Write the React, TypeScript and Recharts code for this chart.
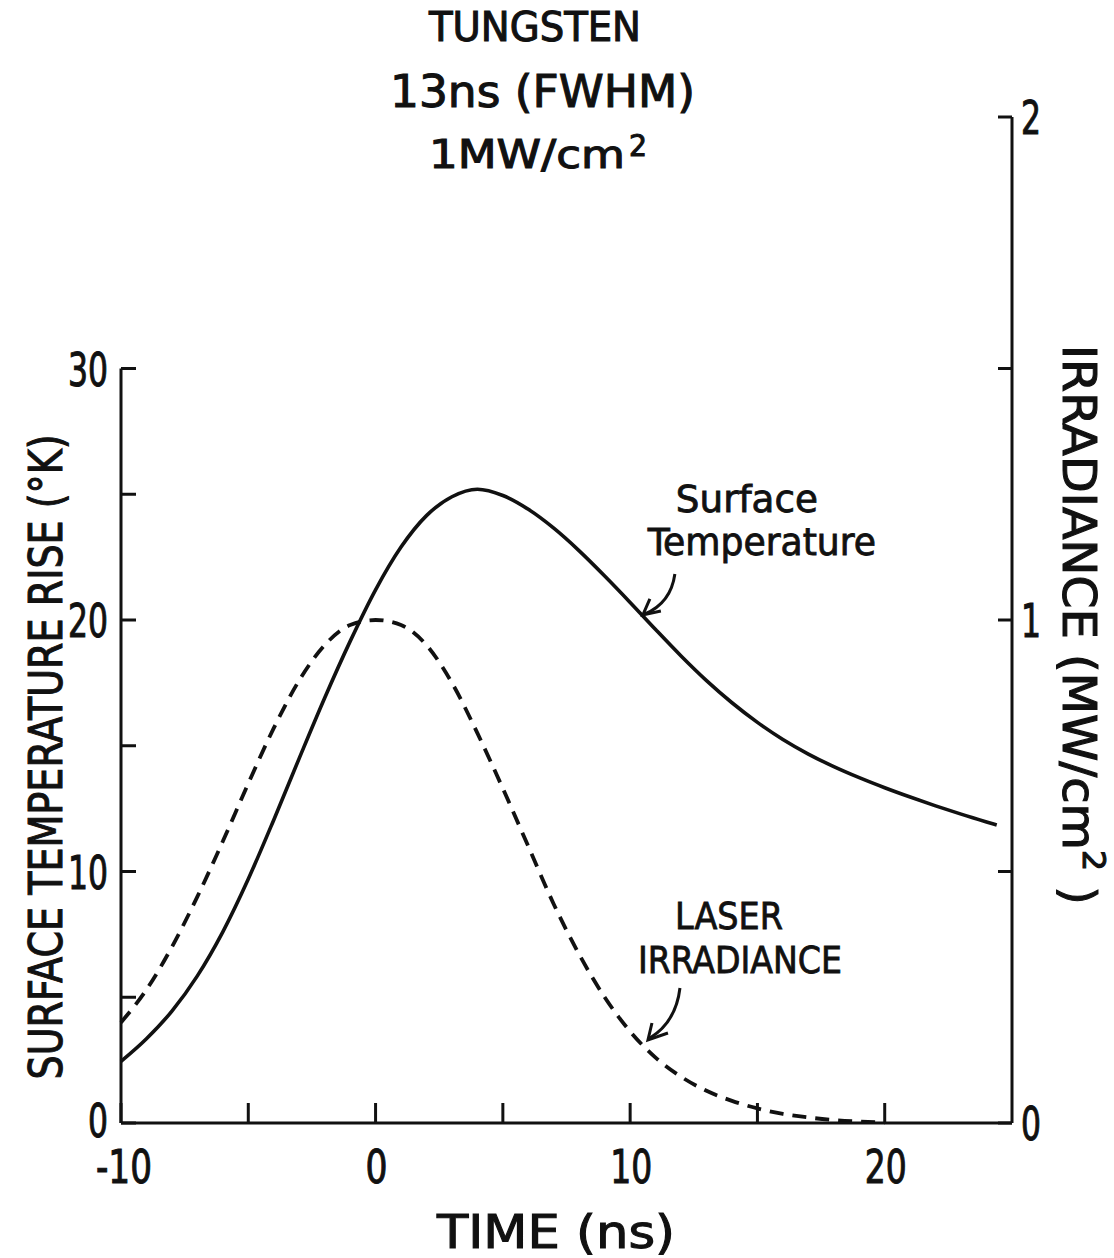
import { LineChart, Line, XAxis, YAxis, ReferenceLine, ReferenceDot } from "recharts"

// time in ns, temperature rise in K, irradiance in MW/cm^2
const time = [-10, -9, -8, -7, -6, -5, -4, -3, -2, -1, 0, 1, 2, 3, 4, 5, 6, 7, 8, 9, 10, 11, 12, 13, 14, 15, 16, 17, 18, 19, 20, 21, 22, 23, 24, 24.4]
const surfaceTemperature = [2.45, 3.35, 4.45, 5.85, 7.6, 9.7, 12.05, 14.5, 16.9, 19.15, 21.2, 22.9, 24.15, 24.9, 25.2, 24.95, 24.4, 23.65, 22.75, 21.75, 20.7, 19.62, 18.57, 17.59, 16.71, 15.93, 15.25, 14.67, 14.17, 13.73, 13.33, 12.96, 12.61, 12.28, 11.97, 11.85]
const laserIrradiance = [0.2, 0.265, 0.35, 0.45, 0.56, 0.675, 0.785, 0.88, 0.95, 0.99, 1.0, 0.99, 0.95, 0.875, 0.775, 0.665, 0.55, 0.435, 0.335, 0.25, 0.182, 0.13, 0.092, 0.064, 0.044, 0.029, 0.018, 0.011, 0.006, 0.003, 0.001, null, null, null, null, null]

const timeTicks = [-10, -5, 0, 5, 10, 15, 20]
const timeLabels = [-10, 0, 10, 20]
const tempTicks = [0, 5, 10, 15, 20, 25, 30]
const tempLabels = [0, 10, 20, 30]
const irrTicks = [0, 0.5, 1, 1.5, 2]
const irrLabels = [0, 1, 2]

const data = time.map((t, i) => ({ t, temp: surfaceTemperature[i], irr: laserIrradiance[i] }))

const INK = "#111"
const FONT = '"DejaVu Sans Condensed", "DejaVu Sans", sans-serif'

// width a hand-lettered number takes up
const numWidth = (s: string) => s.replace("-", "").length * 20 + (s.includes("-") ? 14 : 0)

function TimeTick(props: any) {
  const { x, y, payload } = props
  const v = payload.value
  const s = String(v)
  return (
    <g>
      <line x1={x} x2={x} y1={y} y2={y - 20} stroke={INK} strokeWidth={3} />
      {timeLabels.includes(v) && (
        <text x={x + (v < 0 ? 3 : 1)} y={y + 60} textAnchor="middle" fontSize={46} fontFamily={FONT} fill={INK}
          stroke={INK} strokeWidth={1} textLength={numWidth(s) + 2} lengthAdjust="spacingAndGlyphs">
          {s}
        </text>
      )}
    </g>
  )
}

function TempTick(props: any) {
  const { x, y, payload } = props
  const v = payload.value
  const s = String(v)
  return (
    <g>
      <line x1={x} x2={x + 15} y1={y} y2={y} stroke={INK} strokeWidth={3} />
      {tempLabels.includes(v) && (
        <text x={x - 13} y={y + (v === 0 ? 14 : 17)} textAnchor="end" fontSize={46} fontFamily={FONT} fill={INK}
          stroke={INK} strokeWidth={1} textLength={numWidth(s)} lengthAdjust="spacingAndGlyphs">
          {s}
        </text>
      )}
    </g>
  )
}

function IrrTick(props: any) {
  const { x, y, payload } = props
  const v = payload.value
  const s = String(v)
  return (
    <g>
      <line x1={x} x2={x - 14} y1={y} y2={y} stroke={INK} strokeWidth={3} />
      {irrLabels.includes(v) && (
        <text x={x + 9} y={y + 17} textAnchor="start" fontSize={46} fontFamily={FONT} fill={INK}
          stroke={INK} strokeWidth={1} textLength={numWidth(s)} lengthAdjust="spacingAndGlyphs">
          {s}
        </text>
      )}
    </g>
  )
}

function SurfaceNote(props: any) {
  const { cx, cy } = props
  return (
    <g fontFamily={FONT} fontSize={38} fill={INK} stroke={INK} strokeWidth={0.8}>
      <text x={cx + 104} y={cy - 103} textAnchor="middle" textLength={142} lengthAdjust="spacingAndGlyphs">Surface</text>
      <text x={cx + 119} y={cy - 60} textAnchor="middle" textLength={228} lengthAdjust="spacingAndGlyphs">Temperature</text>
      <path d={`M${cx + 32} ${cy - 41} Q${cx + 28} ${cy - 12} ${cx + 2} ${cy - 1}`} fill="none" strokeWidth={3} />
      <path d={`M${cx + 7} ${cy - 16} L${cx} ${cy} L${cx + 18} ${cy - 4}`} fill="none" strokeWidth={3} />
    </g>
  )
}

function LaserNote(props: any) {
  const { cx, cy } = props
  return (
    <g fontFamily={FONT} fontSize={38} fill={INK} stroke={INK} strokeWidth={0.8}>
      <text x={cx + 81} y={cy - 111} textAnchor="middle" textLength={108} lengthAdjust="spacingAndGlyphs">LASER</text>
      <text x={cx + 92} y={cy - 67} textAnchor="middle" textLength={204} lengthAdjust="spacingAndGlyphs">IRRADIANCE</text>
      <path d={`M${cx + 32} ${cy - 52} Q${cx + 28} ${cy - 18} ${cx + 2} ${cy - 2}`} fill="none" strokeWidth={3} />
      <path d={`M${cx + 4} ${cy - 17} L${cx} ${cy} L${cx + 20} ${cy - 7}`} fill="none" strokeWidth={3} />
    </g>
  )
}

export default function App() {
  return (
    <div style={{ position: "absolute", left: 0, top: 0, width: 1114, height: 1258, background: "#fff" }}>
      <LineChart width={1114} height={1258} data={data} margin={{ top: 117, right: 0, bottom: 0, left: 0 }}>
        <XAxis
          dataKey="t"
          type="number"
          domain={[-10, 25]}
          ticks={timeTicks}
          interval={0}
          height={135}
          tickSize={0}
          tickMargin={0}
          tickLine={false}
          axisLine={{ stroke: INK, strokeWidth: 3 }}
          tick={<TimeTick />}
        />
        <YAxis
          yAxisId="temp"
          orientation="left"
          domain={[0, 40]}
          ticks={tempTicks}
          interval={0}
          width={121}
          tickSize={0}
          tickMargin={0}
          tickLine={false}
          axisLine={false}
          tick={<TempTick />}
        />
        <YAxis
          yAxisId="irr"
          orientation="right"
          domain={[0, 2]}
          ticks={irrTicks}
          interval={0}
          width={102}
          tickSize={0}
          tickMargin={0}
          tickLine={false}
          axisLine={{ stroke: INK, strokeWidth: 3 }}
          tick={<IrrTick />}
        />
        <ReferenceLine yAxisId="temp" segment={[{ x: -10, y: 0 }, { x: -10, y: 30 }]} stroke={INK} strokeWidth={3} />
        <Line
          yAxisId="irr"
          dataKey="irr"
          type="monotone"
          stroke={INK}
          strokeWidth={3.8}
          strokeDasharray="14 9"
          dot={false}
          isAnimationActive={false}
        />
        <Line
          yAxisId="temp"
          dataKey="temp"
          type="monotone"
          stroke={INK}
          strokeWidth={3.6}
          dot={false}
          isAnimationActive={false}
        />
        <ReferenceDot yAxisId="temp" x={10.5} y={20.2} shape={<SurfaceNote />} />
        <ReferenceDot yAxisId="irr" x={10.7} y={0.165} shape={<LaserNote />} />
      </LineChart>
      <svg width={1114} height={1258} style={{ position: "absolute", left: 0, top: 0, pointerEvents: "none" }}>
        <g fontFamily={FONT} fill={INK} stroke={INK} strokeWidth={1}>
          <text x={429} y={41} fontSize={40} textLength={212} lengthAdjust="spacingAndGlyphs">TUNGSTEN</text>
          <text x={390} y={107} fontSize={45} textLength={305} lengthAdjust="spacingAndGlyphs">13ns (FWHM)</text>
          <text x={429} y={168} fontSize={39} textLength={196} lengthAdjust="spacingAndGlyphs">1MW/cm</text>
          <text x={629} y={156} fontSize={30} textLength={18} lengthAdjust="spacingAndGlyphs">2</text>
          <text transform="translate(62 757) rotate(-90)" textAnchor="middle" fontSize={46} textLength={645} lengthAdjust="spacingAndGlyphs">
            SURFACE TEMPERATURE RISE (°K)
          </text>
          <text transform="translate(1063 625) rotate(90)" textAnchor="middle" fontSize={46} textLength={560} lengthAdjust="spacingAndGlyphs">
            IRRADIANCE (MW/cm<tspan fontSize={32} dy={-20}>2</tspan><tspan dy={20}> )</tspan>
          </text>
          <text x={556} y={1248} textAnchor="middle" fontSize={46} textLength={238} lengthAdjust="spacingAndGlyphs">TIME (ns)</text>
        </g>
      </svg>
    </div>
  )
}
